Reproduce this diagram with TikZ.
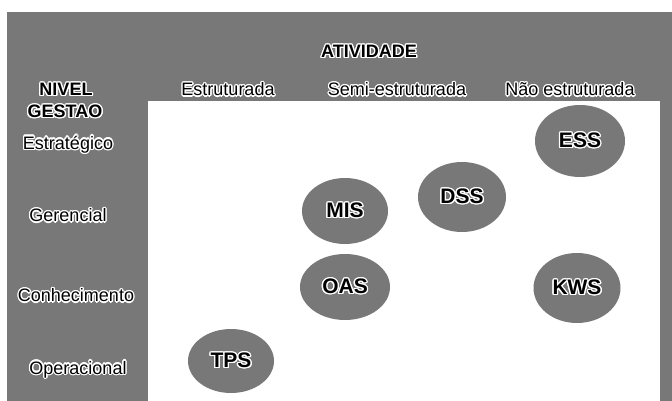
\documentclass[tikz,border=0pt]{standalone}
\usepackage{fontspec}
\setmainfont{Liberation Sans}
\usepackage{contour}
\contourlength{1.3pt}
\contournumber{16}
\usetikzlibrary{shapes.geometric}
\definecolor{halftone}{gray}{0.47}
\tikzset{
  lbl/.style={inner sep=0pt, font=\fontsize{18}{18}\selectfont},
  blbl/.style={inner sep=0pt, font=\fontsize{18}{18}\selectfont\bfseries},
  sys/.style={ellipse, fill=halftone, draw=none, inner sep=0pt,
              font=\fontsize{21}{21}\selectfont\bfseries}
}
\newcommand{\hl}[1]{\contour{white}{#1}}
\begin{document}
\begin{tikzpicture}[x=1pt,y=-1pt]
\useasboundingbox (0,0) rectangle (672,401);
\fill[white] (0,0) rectangle (672,401);
% frame
\fill[halftone] (7,12) rectangle (672,401);
\fill[white] (148,101) rectangle (660,401);
% header
\node[blbl] (atv) at (369,52) {\hl{ATIVIDADE}};
\node[lbl] (est) at (228,90) {\hl{Estruturada}};
\node[lbl] (semi) at (397,90) {\hl{Semi-estruturada}};
\node[lbl] (nao) at (570,90) {\hl{Não estruturada}};
\node[blbl] (nivel) at (66,90) {\hl{NIVEL}};
\node[blbl] (gestao) at (65,112) {\hl{GESTAO}};
% levels
\node[lbl] (estr) at (68,145) {\hl{Estratégico}};
\node[lbl] (ger) at (68,216) {\hl{Gerencial}};
\node[lbl] (con) at (76,296) {\hl{Conhecimento}};
\node[lbl] (ope) at (78,370) {\hl{Operacional}};
% systems
\node[sys, minimum width=90pt, minimum height=72pt] (ess) at (580,141) {\hl{ESS}};
\node[sys, minimum width=88pt, minimum height=70pt] (dss) at (462,197) {\hl{DSS}};
\node[sys, minimum width=86pt, minimum height=66pt] (mis) at (345,211) {\hl{MIS}};
\node[sys, minimum width=90pt, minimum height=66pt] (oas) at (345,287) {\hl{OAS}};
\node[sys, minimum width=87pt, minimum height=70pt] (kws) at (577,288) {\hl{KWS}};
\node[sys, minimum width=86pt, minimum height=64pt] (tps) at (231,361) {\hl{TPS}};
\end{tikzpicture}
\end{document}
